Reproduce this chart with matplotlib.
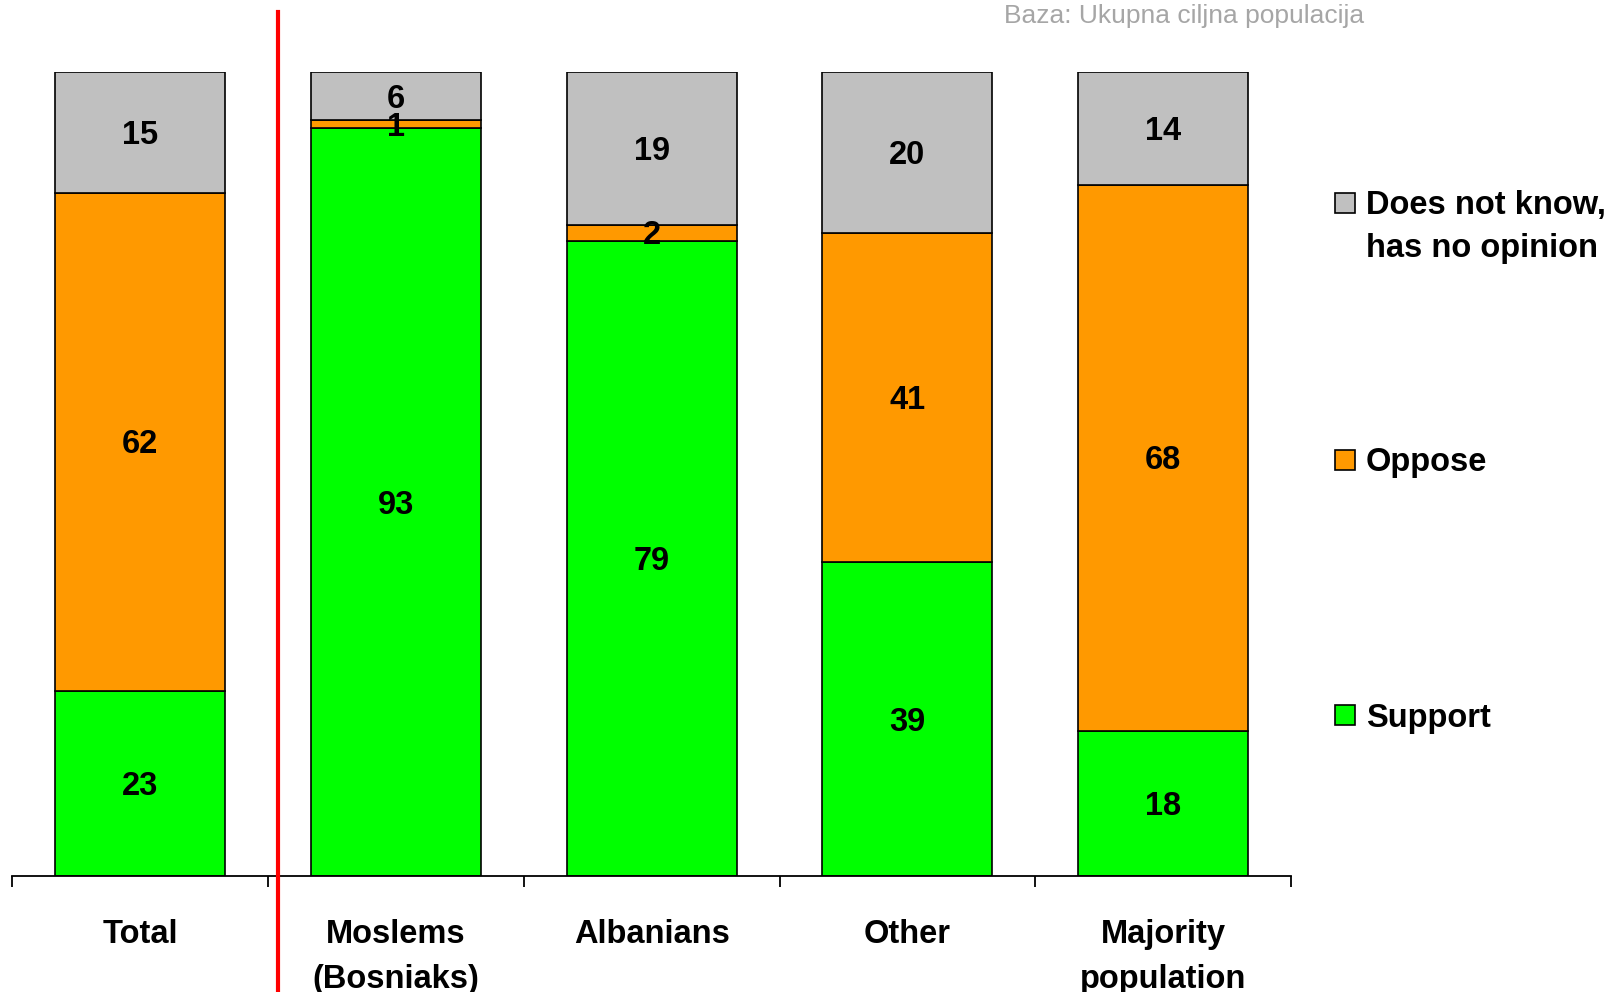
import matplotlib
matplotlib.use("Agg")
import matplotlib.pyplot as plt
from matplotlib.patches import Rectangle
from matplotlib.lines import Line2D
from matplotlib.transforms import offset_copy
import numpy as np

categories = ["Total", "Moslems\n(Bosniaks)", "Albanians", "Other", "Majority\npopulation"]
support = [23, 93, 79, 39, 18]
oppose = [62, 1, 2, 41, 68]
dont_know = [15, 6, 19, 20, 14]
series_names = ["Does not know,\nhas no opinion", "Oppose", "Support"]
colors = {"Support": "#00ff00", "Oppose": "#ff9900", "Does not know,\nhas no opinion": "#c0c0c0"}
base_note = "Baza: Ukupna ciljna populacija"

plt.rcParams['font.family'] = ['Liberation Sans', 'DejaVu Sans']

W, H = 1616, 992
fig = plt.figure(figsize=(W / 100, H / 100), dpi=100)
ax = fig.add_axes([12.4 / W, 1 - 876 / H, (1291 - 12.4) / W, (876 - 72) / H])

x = np.arange(len(categories))
bw = 0.665
series = [("Support", support), ("Oppose", oppose), ("Does not know,\nhas no opinion", dont_know)]
lab_tr = offset_copy(ax.transData, fig=fig, x=0, y=-3, units="dots")
bottom = np.zeros(len(categories))
for name, vals in series:
    vals = np.array(vals, dtype=float)
    ax.bar(x, vals, bw, bottom=bottom, color=colors[name], edgecolor="black", linewidth=1.2, zorder=2)
    for xi, b, v in zip(x, bottom, vals):
        ax.text(xi, b + v / 2, f"{int(v)}", ha="center", va="center", transform=lab_tr,
                fontsize=23.5, fontweight="bold", color="black", zorder=3)
    bottom += vals

ax.set_xlim(-0.5, len(categories) - 0.5)
ax.set_ylim(0, 100)
for s in ["top", "right", "left"]:
    ax.spines[s].set_visible(False)
ax.spines["bottom"].set_linewidth(1.3)
ax.set_yticks([])
ax.set_xticks(np.arange(len(categories) + 1) - 0.5)
ax.set_xticklabels([])
ax.tick_params(axis="x", which="major", direction="out", length=8, width=1.3)
ax.set_xticks(x, minor=True)
ax.set_xticklabels(categories, minor=True, fontsize=23.5, fontweight="bold", linespacing=1.58)
ax.tick_params(axis="x", which="minor", length=0, pad=31)

# red separator line
fig.add_artist(Line2D([278 / W, 278 / W], [0, 1 - 12 / H], color="red", linewidth=3, transform=fig.transFigure))

# legend (manual)
leg_y = {"Does not know,\nhas no opinion": 227, "Oppose": 463, "Support": 718}
for name in series_names:
    ysq = 203 if "\n" in name else leg_y[name] - 3
    fig.add_artist(Rectangle((1335 / W, 1 - (ysq + 10) / H), 20 / W, 20 / H,
                             facecolor=colors[name], edgecolor="black", linewidth=1.2,
                             transform=fig.transFigure))
    fig.text(1366 / W, 1 - leg_y[name] / H, name, ha="left", va="center",
             fontsize=23.5, fontweight="bold", linespacing=1.5)

fig.text(1364 / W, 1 - 15.5 / H, base_note, ha="right", va="center", fontsize=19, color="#a6a6a6")

fig.savefig("out.png", dpi=100)
